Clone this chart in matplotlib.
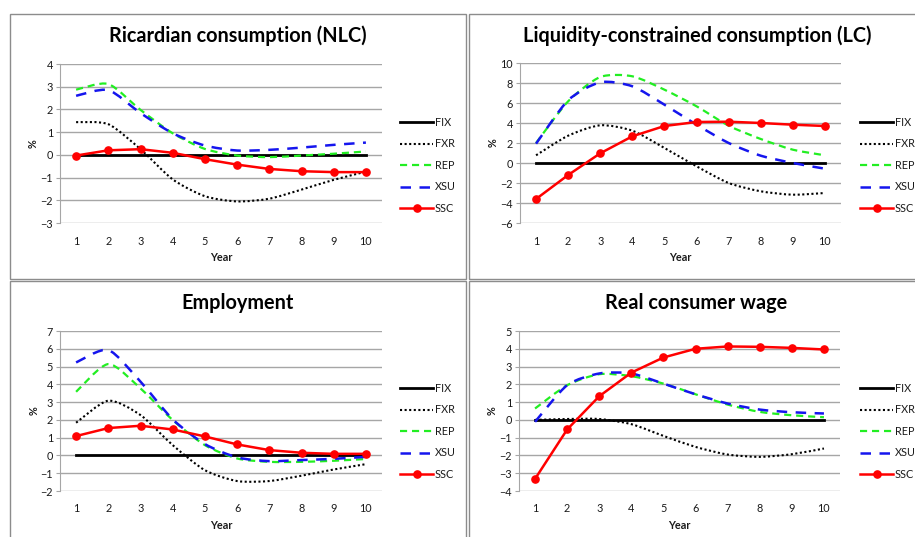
import matplotlib
matplotlib.use("Agg")
import matplotlib.pyplot as plt
from matplotlib.path import Path
from matplotlib.patches import PathPatch, Rectangle
from matplotlib.lines import Line2D
import numpy as np

plt.rcParams["font.family"] = ["Lato", "DejaVu Sans"]

W, H = 915, 537

years = np.arange(1, 11)
series_names = ["FIX", "FXR", "REP", "XSU", "SSC"]

# Ricardian consumption (NLC)
nlc_fix = [0, 0, 0, 0, 0, 0, 0, 0, 0, 0]
nlc_fxr = [1.44, 1.35, 0.25, -1.08, -1.82, -2.05, -1.93, -1.53, -1.1, -0.74]
nlc_rep = [2.87, 3.12, 1.98, 0.95, 0.26, -0.03, -0.1, -0.03, 0.05, 0.15]
nlc_xsu = [2.6, 2.85, 1.84, 0.95, 0.41, 0.19, 0.22, 0.32, 0.44, 0.54]
nlc_ssc = [-0.03, 0.2, 0.25, 0.09, -0.19, -0.43, -0.62, -0.72, -0.76, -0.76]

# Liquidity-constrained consumption (LC)
lc_fix = [0, 0, 0, 0, 0, 0, 0, 0, 0, 0]
lc_fxr = [0.77, 2.73, 3.77, 3.23, 1.5, -0.33, -2.0, -2.83, -3.17, -3.0]
lc_rep = [2.0, 6.17, 8.6, 8.67, 7.33, 5.67, 3.73, 2.4, 1.33, 0.77]
lc_xsu = [1.93, 6.27, 8.07, 7.67, 5.83, 3.83, 2.0, 0.73, 0.0, -0.57]
lc_ssc = [-3.6, -1.2, 0.97, 2.67, 3.7, 4.1, 4.13, 4.0, 3.83, 3.7]

# Employment
emp_fix = [0, 0, 0, 0, 0, 0, 0, 0, 0, 0]
emp_fxr = [1.84, 3.08, 2.27, 0.58, -0.83, -1.44, -1.44, -1.14, -0.79, -0.49]
emp_rep = [3.58, 5.14, 3.77, 1.99, 0.58, -0.17, -0.36, -0.36, -0.3, -0.2]
emp_xsu = [5.23, 5.93, 4.15, 2.03, 0.64, -0.11, -0.32, -0.26, -0.19, -0.08]
emp_ssc = [1.09, 1.54, 1.67, 1.46, 1.07, 0.62, 0.3, 0.15, 0.09, 0.09]

# Real consumer wage
rcw_fix = [0, 0, 0, 0, 0, 0, 0, 0, 0, 0]
rcw_fxr = [0.0, 0.05, 0.05, -0.24, -0.9, -1.52, -1.95, -2.08, -1.93, -1.61]
rcw_rep = [0.64, 1.95, 2.57, 2.46, 2.04, 1.44, 0.86, 0.45, 0.26, 0.15]
rcw_xsu = [-0.11, 1.95, 2.61, 2.61, 2.04, 1.44, 0.92, 0.58, 0.43, 0.36]
rcw_ssc = [-3.32, -0.54, 1.33, 2.66, 3.51, 4.0, 4.13, 4.11, 4.05, 3.96]

titles = ["Ricardian consumption (NLC)", "Liquidity-constrained consumption (LC)",
          "Employment", "Real consumer wage"]
ylims = [(-3, 4), (-6, 10), (-2, 7), (-4, 5)]
ysteps = [1, 2, 1, 1]
panel_data = [
    [nlc_fix, nlc_fxr, nlc_rep, nlc_xsu, nlc_ssc],
    [lc_fix, lc_fxr, lc_rep, lc_xsu, lc_ssc],
    [emp_fix, emp_fxr, emp_rep, emp_xsu, emp_ssc],
    [rcw_fix, rcw_fxr, rcw_rep, rcw_xsu, rcw_ssc],
]

# plot areas in pixels: left, right, top, bottom
plot_px = [(60, 382, 64, 223), (520, 841, 63, 223),
           (60, 382, 331, 491), (519, 840, 331, 491)]
# chart borders in pixels: left, top, right, bottom
border_px = [(9.5, 13.5, 466, 278.5), (468.5, 13.5, 925, 278.5),
             (9.5, 280.5, 466, 545), (468.5, 280.5, 925, 545)]
title_y = [36, 36, 303, 303]
legend_x = [400, 860, 400, 860]
legend_y0 = [122, 122, 388, 388]
legend_dy = 21.6

styles = {
    "FIX": dict(color="black", lw=2.0, ls="-"),
    "FXR": dict(color="black", lw=1.5, ls=(0, (1, 1.2))),
    "REP": dict(color="#22ee22", lw=1.6, ls=(0, (3.2, 2.2))),
    "XSU": dict(color="#1515ee", lw=1.8, ls=(0, (4.2, 3.4))),
    "SSC": dict(color="#ff0000", lw=1.8, ls="-"),
}

grid_color = "#a6a6a6"
text_color = "#1a1a1a"
SMOOTH = 1 / 8


def fx(x):
    return x / W


def fy(y):
    return 1 - y / H


def smooth_path(x, y):
    # cubic Bezier through the data points, tangents from neighbouring points
    pts = np.column_stack([x, y]).astype(float)
    padded = np.vstack([pts[0], pts, pts[-1]])
    verts = [pts[0]]
    codes = [Path.MOVETO]
    for i in range(len(pts) - 1):
        p0, p1, p2, p3 = padded[i], padded[i + 1], padded[i + 2], padded[i + 3]
        verts += [p1 + (p2 - p0) * SMOOTH, p2 - (p3 - p1) * SMOOTH, p2]
        codes += [Path.CURVE4] * 3
    return Path(verts, codes)


fig = plt.figure(figsize=(W / 100, H / 100), dpi=100)
fig.patch.set_facecolor("white")

for k in range(4):
    bl, bt, br, bb = border_px[k]
    fig.add_artist(Rectangle((fx(bl), fy(bb)), fx(br - bl), (bb - bt) / H,
                             transform=fig.transFigure, fill=False,
                             edgecolor="#8c8c8c", lw=1.0))

    l, r, t, b = plot_px[k]
    ax = fig.add_axes([fx(l), fy(b), fx(r - l), (b - t) / H])
    lo, hi = ylims[k]
    ax.set_xlim(0.5, 10.5)
    ax.set_ylim(lo, hi)
    ax.set_yticks(np.arange(lo, hi + 0.01, ysteps[k]))
    ax.set_xticks(years)
    ax.grid(axis="y", color=grid_color, lw=1.0)
    ax.set_axisbelow(True)
    for side in ["top", "right", "bottom"]:
        ax.spines[side].set_visible(False)
    ax.spines["left"].set_color(grid_color)
    ax.tick_params(axis="y", length=3, color=grid_color, labelsize=7.8,
                   labelcolor=text_color, pad=2)
    ax.tick_params(axis="x", length=0, labelsize=7.8, labelcolor=text_color, pad=9)
    ax.set_facecolor("none")

    for name, vals in zip(series_names, panel_data[k]):
        st = styles[name]
        if name == "SSC":
            ax.plot(years, vals, color=st["color"], lw=st["lw"], marker="o",
                    markersize=5.2, zorder=5)
        elif name == "FIX":
            ax.plot(years, vals, color=st["color"], lw=st["lw"], zorder=3)
        else:
            patch = PathPatch(smooth_path(years, vals), fill=False,
                              edgecolor=st["color"], lw=st["lw"],
                              linestyle=st["ls"], capstyle="butt", zorder=4)
            ax.add_patch(patch)

    ax.set_ylabel("%", fontsize=7.8, fontweight="bold", labelpad=1, color=text_color)
    ax.set_xlabel("Year", fontsize=7.8, fontweight="bold", labelpad=4, color=text_color)

    fig.text(fx(l + (r - l) / 2 + 17), fy(title_y[k]), titles[k], ha="center",
             va="center", fontsize=14.3, fontweight="bold", color="black")

    # legend drawn at the right of each chart
    for j, name in enumerate(series_names):
        st = styles[name]
        yy = fy(legend_y0[k] + j * legend_dy)
        x0, x1 = fx(legend_x[k]), fx(legend_x[k] + 33)
        fig.add_artist(Line2D([x0, x1], [yy, yy], transform=fig.transFigure,
                              color=st["color"], lw=st["lw"], linestyle=st["ls"]))
        if name == "SSC":
            fig.add_artist(Line2D([(x0 + x1) / 2], [yy], transform=fig.transFigure,
                                  color=st["color"], marker="o", markersize=5.2))
        fig.text(fx(legend_x[k] + 35), yy, name, ha="left", va="center",
                 fontsize=7.8, color=text_color)

fig.savefig("out.png", dpi=100)
